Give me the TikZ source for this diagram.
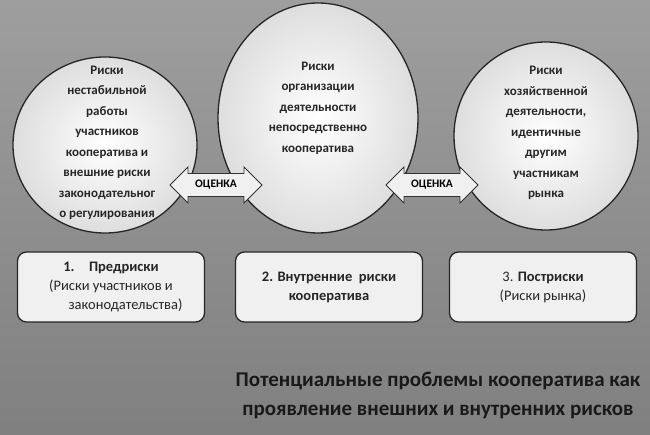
\documentclass[tikz,border=0pt]{standalone}
\usepackage{fontspec}
\setmainfont{Carlito}
\usetikzlibrary{shapes.geometric,shapes.arrows,shadows}
\begin{document}
\begin{tikzpicture}[x=1pt,y=-1pt,
  circ/.style={draw=black!85,line width=1.3pt,inner color=white,outer color=black!13},
  ctext/.style={align=center,font=\bfseries\fontsize{13}{20.5}\selectfont,text=black!85},
  arr/.style={double arrow,draw=black!80,line width=0.8pt,fill=black!6,minimum height=92pt,minimum width=36pt,double arrow head extend=4pt,inner sep=2pt,font=\bfseries\fontsize{11.5}{12}\selectfont},
  box/.style={draw=black!85,line width=1.3pt,rounded corners=9pt,fill=black!6,minimum width=187pt,minimum height=70pt,align=center,font=\fontsize{14.5}{19}\selectfont,text=black!85}]
\fill[top color=black!38,bottom color=black!50] (0,0) rectangle (650,435);
\useasboundingbox (0,0) rectangle (650,435);
\draw[circ] (105,145) ellipse [x radius=92,y radius=88]; \coordinate (c1) at (105,145);
\draw[circ] (318,118) ellipse [x radius=100,y radius=115]; \coordinate (c2) at (318,118);
\draw[circ] (546,136) ellipse [x radius=92,y radius=94]; \coordinate (c3) at (546,136);
\node[ctext] (t1) at (107,143) {Риски\\нестабильной\\работы\\участников\\кооператива и\\внешние риски\\законодательног\\о регулирования};
\node[ctext] (t2) at (318,108) {Риски\\организации\\деятельности\\непосредственно\\кооператива};
\node[ctext] (t3) at (546,133) {Риски\\хозяйственной\\деятельности,\\идентичные\\другим\\участникам\\рынка};
\node[arr] (a1) at (216,185) {ОЦЕНКА};
\node[arr] (a2) at (432,185) {ОЦЕНКА};
\node[box] (b1) at (111,287) {\textbf{1.\quad Предриски}\\(Риски участников и\\\hspace*{2em}законодательства)};
\node[box] (b2) at (329,287) {\textbf{2. Внутренние\ \ риски}\\\textbf{кооператива}};
\node[box] (b3) at (543,287) {3. \textbf{Постриски}\\(Риски рынка)};
\node[font=\bfseries\fontsize{21}{29}\selectfont,text=black!90,align=center] (title) at (438,395) {Потенциальные проблемы кооператива как\\проявление внешних и внутренних рисков};
\end{tikzpicture}
\end{document}
